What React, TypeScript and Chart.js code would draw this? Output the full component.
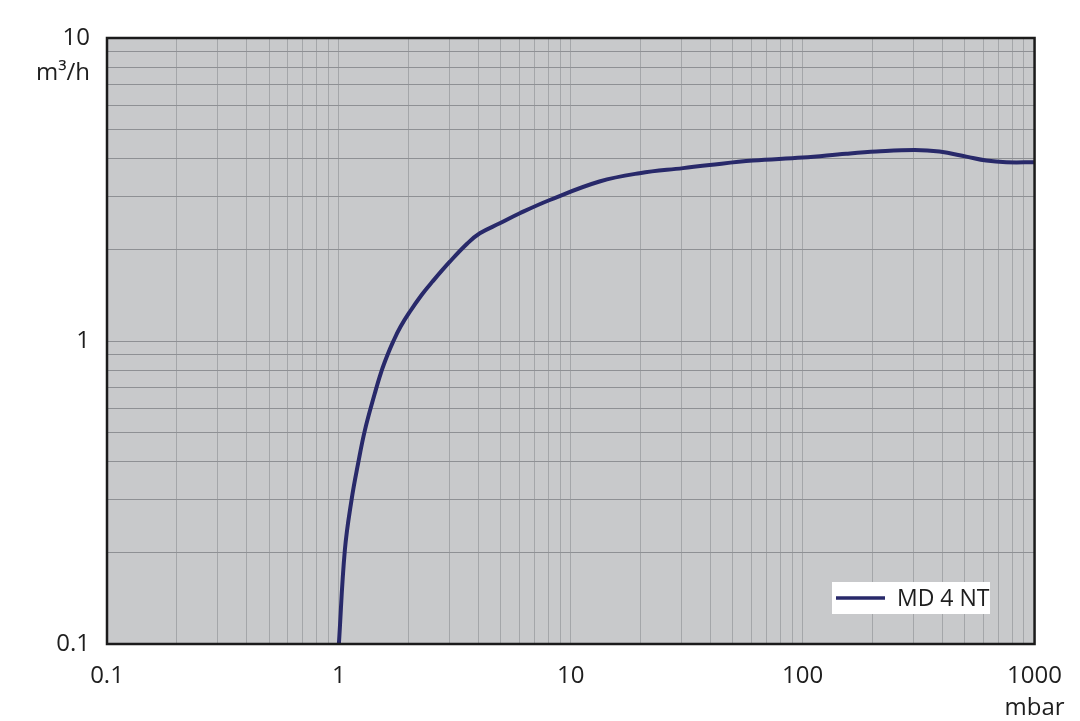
import { useEffect, useRef } from 'react';
import { Chart, registerables } from 'chart.js';

Chart.register(...registerables);

// Pumping speed curve of MD 4 NT (pressure in mbar, speed in m³/h)
const seriesLabel = 'MD 4 NT';
const pressure = [1.0, 1.061, 1.134, 1.211, 1.295, 1.429, 1.517, 1.62, 1.714, 1.841, 2.023, 2.273, 2.529, 3.009, 3.58, 4.053, 4.943, 6.03, 8.12, 13.3, 19.8, 30.5, 39.7, 61, 100, 154, 208, 304, 389, 508, 619, 755, 1000];
const pumpingSpeed = [0.1, 0.204, 0.299, 0.395, 0.508, 0.672, 0.784, 0.899, 0.995, 1.112, 1.249, 1.419, 1.569, 1.827, 2.098, 2.267, 2.446, 2.64, 2.92, 3.36, 3.58, 3.72, 3.81, 3.94, 4.03, 4.15, 4.22, 4.27, 4.22, 4.06, 3.94, 3.89, 3.89];

const xDecades = [0.1, 1, 10, 100, 1000];
const yDecades = [0.1, 1, 10];
const minorSteps = [2, 3, 4, 5, 6, 7, 8, 9];
const xUnit = 'mbar';
const yUnit = 'm³/h';

const FONT = '"Open Sans", "DejaVu Sans", sans-serif';
const TEXT = '#1e1e1e';
const BG = '#c8c9cb';
const LINE = '#28296a';

function buildTicks(decades: number[]) {
  const out: { value: number; major: boolean }[] = [];
  decades.forEach((d, i) => {
    out.push({ value: d, major: true });
    if (i < decades.length - 1) minorSteps.forEach((m) => out.push({ value: +(d * m).toPrecision(6), major: false }));
  });
  return out;
}

function isDecade(v: number) {
  const l = Math.log10(v);
  return Math.abs(l - Math.round(l)) < 1e-9;
}

function fmt(v: number) {
  return isDecade(v) ? String(+v.toPrecision(6)) : '';
}

const decorPlugin = {
  id: 'decor',
  beforeDraw(chart: any) {
    const { ctx, chartArea } = chart;
    const { left, top, right, bottom } = chartArea;
    ctx.save();
    ctx.fillStyle = BG;
    ctx.fillRect(left, top, right - left, bottom - top);
    ctx.restore();
  },
  afterDraw(chart: any) {
    const { ctx, chartArea, scales } = chart;
    const { left, top, right, bottom } = chartArea;
    ctx.save();
    // frame
    ctx.strokeStyle = '#1b1b1b';
    ctx.lineWidth = 2.5;
    ctx.strokeRect(left, top, right - left, bottom - top);

    // legend
    const ds = chart.data.datasets[0];
    const bx = 832, by = 582, bw = 158, bh = 32;
    ctx.fillStyle = '#ffffff';
    ctx.fillRect(bx, by, bw, bh);
    ctx.strokeStyle = ds.borderColor;
    ctx.lineWidth = 3.5;
    ctx.beginPath();
    ctx.moveTo(bx + 4, by + bh / 2);
    ctx.lineTo(bx + 53, by + bh / 2);
    ctx.stroke();
    ctx.fillStyle = TEXT;
    ctx.font = `23px ${FONT}`;
    ctx.textAlign = 'left';
    ctx.textBaseline = 'middle';
    ctx.fillText(ds.label, bx + 65, by + bh / 2 + 1);

    // units
    ctx.font = `24px ${FONT}`;
    ctx.textAlign = 'right';
    ctx.fillText(yUnit, 90, scales.y.getPixelForValue(10) + 35);
    ctx.textAlign = 'center';
    ctx.fillText(xUnit, scales.x.getPixelForValue(1000), 708);
    ctx.restore();
  },
};

export default function App() {
  const ref = useRef<HTMLCanvasElement | null>(null);

  useEffect(() => {
    document.body.style.margin = '0';
    const canvas = ref.current;
    if (!canvas) return;
    const chart = new Chart(canvas, {
      type: 'line',
      data: {
        datasets: [
          {
            label: seriesLabel,
            data: pressure.map((p, i) => ({ x: p, y: pumpingSpeed[i] })),
            borderColor: LINE,
            borderWidth: 4,
            pointRadius: 0,
            fill: false,
            tension: 0.4,
          },
        ],
      },
      options: {
        animation: false,
        responsive: false,
        devicePixelRatio: 1,
        layout: { padding: { top: 38, right: 45, left: 0, bottom: 0 } },
        plugins: { legend: { display: false }, tooltip: { enabled: false } },
        scales: {
          x: {
            type: 'logarithmic',
            min: 0.1,
            max: 1000,
            afterBuildTicks: (scale: any) => {
              scale.ticks = buildTicks(xDecades);
            },
            afterFit: (scale: any) => {
              scale.height = 77;
            },
            grid: { color: '#a4a6a9', lineWidth: 1, drawTicks: false },
            border: { display: false },
            ticks: {
              autoSkip: false,
              maxRotation: 0,
              padding: 18,
              color: TEXT,
              font: { family: FONT, size: 24 },
              callback: (v: any) => fmt(Number(v)),
            },
          },
          y: {
            type: 'logarithmic',
            min: 0.1,
            max: 10,
            afterBuildTicks: (scale: any) => {
              scale.ticks = buildTicks(yDecades);
            },
            afterFit: (scale: any) => {
              scale.width = 107;
            },
            grid: { color: '#8e9094', lineWidth: 1, drawTicks: false },
            border: { display: false },
            ticks: {
              autoSkip: false,
              padding: 17,
              color: TEXT,
              font: { family: FONT, size: 24 },
              callback: (v: any) => fmt(Number(v)),
            },
          },
        },
      },
      plugins: [decorPlugin],
    } as any);
    return () => chart.destroy();
  }, []);

  return (
    <div style={{ position: 'absolute', left: 0, top: 0, width: 1080, height: 721, background: '#ffffff' }}>
      <canvas ref={ref} width={1080} height={721} style={{ display: 'block' }} />
    </div>
  );
}
